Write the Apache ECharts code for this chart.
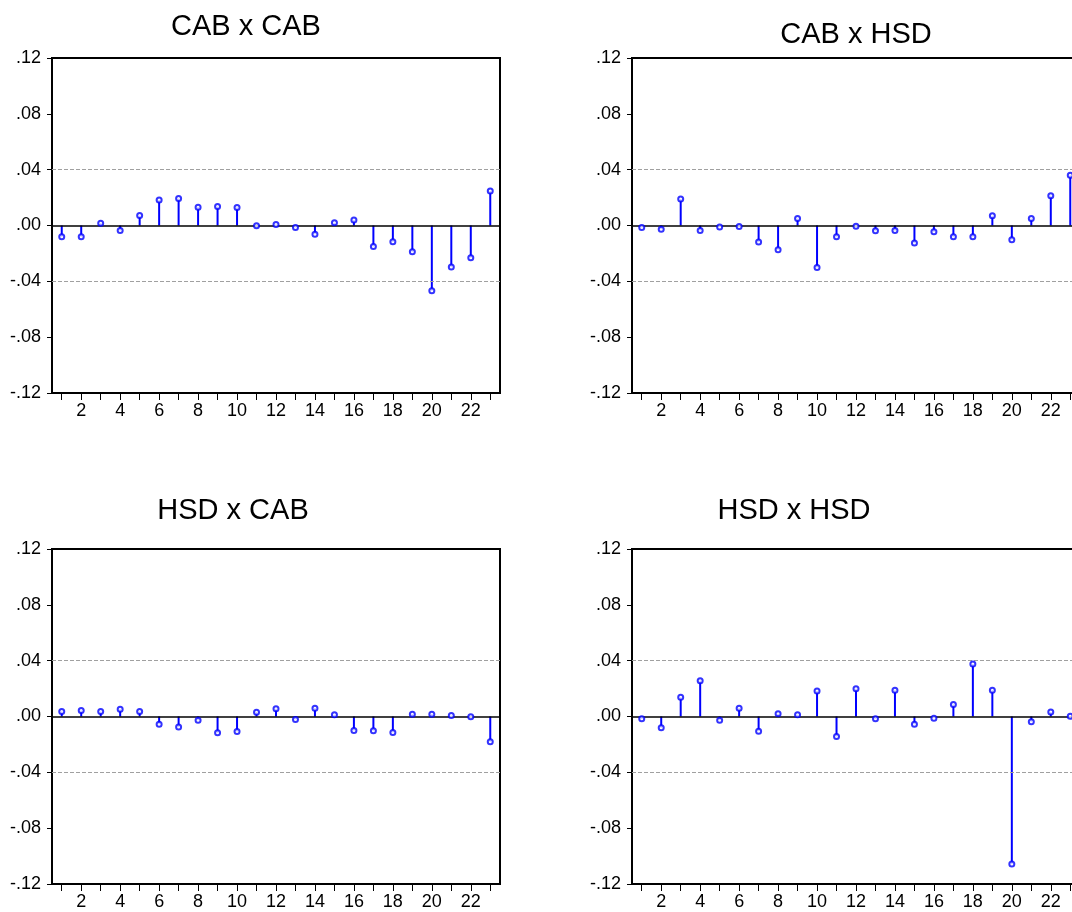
<!DOCTYPE html>
<html>
<head>
<meta charset="utf-8">
<script src="https://cdn.jsdelivr.net/npm/echarts@6/dist/echarts.min.js"></script>
<style>
  html, body { margin: 0; padding: 0; background: #fff; }
  #main { width: 1072px; height: 912px; }
</style>
</head>
<body>
<div id="main"></div>
<script>
// lags 1..23
const lags = ['1','2','3','4','5','6','7','8','9','10','11','12','13','14','15','16','17','18','19','20','21','22','23'];

// cross correlations
const cabCab = [-0.0081,-0.0081,0.0017,-0.0036,0.0071,0.0183,0.0193,0.0131,0.0136,0.0129,-0.0002,0.0007,-0.0014,-0.0062,0.0019,0.0040,-0.0150,-0.0117,-0.0188,-0.0467,-0.0298,-0.0231,0.0248];
const cabHsd = [-0.0014,-0.0026,0.0190,-0.0036,-0.0010,-0.0007,-0.0119,-0.0174,0.0050,-0.0300,-0.0081,-0.0005,-0.0038,-0.0036,-0.0126,-0.0045,-0.0081,-0.0081,0.0069,-0.0102,0.0050,0.0214,0.0360];
const hsdCab = [0.0036,0.0043,0.0036,0.0052,0.0036,-0.0055,-0.0076,-0.0026,-0.0117,-0.0107,0.0031,0.0055,-0.0021,0.0060,0.0012,-0.0100,-0.0102,-0.0114,0.0017,0.0017,0.0007,-0.0001,-0.0181];
const hsdHsd = [-0.0017,-0.0081,0.0138,0.0257,-0.0026,0.0060,-0.0105,0.0019,0.0012,0.0183,-0.0143,0.0198,-0.0017,0.0188,-0.0055,-0.0012,0.0086,0.0376,0.0188,-0.1057,-0.0038,0.0033,0.0002];

// +/- 2 s.e. bands
const band = 0.0424;

const titles = ['CAB x CAB', 'CAB x HSD', 'HSD x CAB', 'HSD x HSD'];
const panels = [cabCab, cabHsd, hsdCab, hsdHsd];

// panel boxes [left, top] and title centres [x, y]
const boxes = [[52, 58], [632, 58], [52, 549], [632, 549]];
const titlePos = [[246, 27], [856, 35], [233, 511], [794, 511]];
const FONT = '"Liberation Sans", Arial, sans-serif';

function fmtY (v) {
	const s = Math.abs(v).toFixed(2).replace(/^0/, '');
	return (v < -1e-9 ? '-' : '') + s;
}

const myChart = echarts.init(document.getElementById('main'));

const grid = [], xAxis = [], yAxis = [], series = [], graphic = [];
panels.forEach(function (data, i) {
	grid.push({
		left: boxes[i][0], top: boxes[i][1], width: 448, height: 335,
		outerBoundsMode: 'none', containLabel: false,
		show: true, borderColor: '#000', borderWidth: 2, backgroundColor: '#fff'
	});
	xAxis.push({
		type: 'category', gridIndex: i, data: lags, boundaryGap: true,
		axisLine: { onZero: false, lineStyle: { color: '#000', width: 2 } },
		axisTick: { show: true, alignWithLabel: true, interval: 0, inside: false, length: 7, lineStyle: { color: '#000', width: 1 } },
		axisLabel: {
			interval: function (idx, val) { return Number(val) % 2 === 0; },
			color: '#000', fontSize: 18, fontFamily: FONT, margin: 9
		},
		splitLine: { show: false }
	});
	yAxis.push({
		type: 'value', gridIndex: i, min: -0.12, max: 0.12, interval: 0.04,
		axisLine: { show: true, lineStyle: { color: '#000', width: 2 } },
		axisTick: { show: true, length: 5, lineStyle: { color: '#000', width: 1 } },
		axisLabel: { formatter: fmtY, color: '#000', fontSize: 18, fontFamily: FONT, margin: 11 },
		splitLine: { show: false }
	});
	// stems
	series.push({
		type: 'bar', xAxisIndex: i, yAxisIndex: i, data: data,
		barWidth: 2, itemStyle: { color: '#0000ff' }, silent: true, z: 3,
		markLine: {
			silent: true, symbol: 'none', label: { show: false },
			data: [
				{ yAxis: 0, lineStyle: { color: '#000', width: 1.5, type: 'solid' } },
				{ yAxis: band, lineStyle: { color: '#a0a0a0', width: 1, type: [4, 2] } },
				{ yAxis: -band, lineStyle: { color: '#a0a0a0', width: 1, type: [4, 2] } }
			]
		}
	});
	// little circles at the tips
	series.push({
		type: 'scatter', xAxisIndex: i, yAxisIndex: i, data: data,
		symbol: 'emptyCircle', symbolSize: 5,
		itemStyle: { color: '#0000ff', borderWidth: 1.2 }, silent: true, z: 5
	});
	graphic.push({
		type: 'text', x: titlePos[i][0], y: titlePos[i][1],
		style: { text: titles[i], fontSize: 29, fontFamily: FONT, fill: '#000', align: 'center', verticalAlign: 'middle' }
	});
});

myChart.setOption({
	backgroundColor: '#fff',
	animation: false,
	grid: grid,
	xAxis: xAxis,
	yAxis: yAxis,
	series: series,
	graphic: graphic
});
</script>
</body>
</html>
